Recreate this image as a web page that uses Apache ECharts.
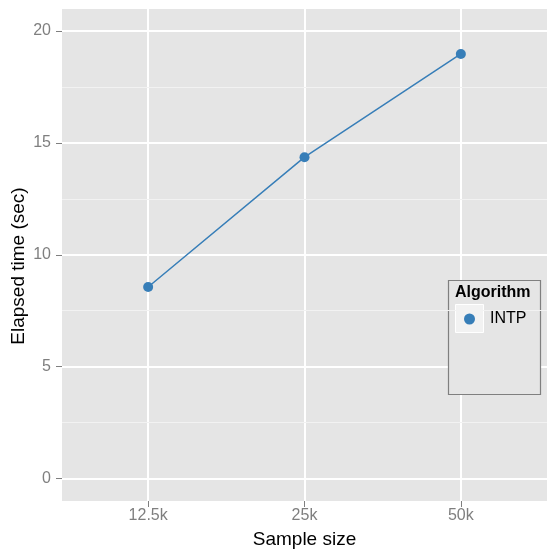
<!DOCTYPE html>
<html>
<head>
<meta charset="utf-8">
<script src="https://cdn.jsdelivr.net/npm/echarts@6/dist/echarts.min.js"></script>
<style>html,body{margin:0;padding:0;background:#fff}#c{width:548px;height:549px}</style>
</head>
<body>
<div id="c"></div>
<script>
var categories = ['12.5k', '25k', '50k'];
var elapsed = [8.56, 14.36, 18.97];
var yTicks = [0, 5, 10, 15, 20];
var yMinor = [2.5, 7.5, 12.5, 17.5];
var seriesName = 'INTP';
var legendTitle = 'Algorithm';

var FONT = '"Liberation Sans", Arial, sans-serif';
var BLUE = '#377EB8';
var xPos = categories.map(function (c, i) { return i + 1; });
var points = elapsed.map(function (v, i) { return [xPos[i], v]; });

var chart = echarts.init(document.getElementById('c'), null, { renderer: 'canvas' });
chart.setOption({
  animation: false,
  backgroundColor: '#fff',
  title: {
    text: legendTitle, left: 455, top: 285, z: 10,
    padding: 0,
    textStyle: { fontFamily: FONT, fontSize: 16, fontWeight: 'bold', color: '#000' }
  },
  grid: { left: 62, right: 1, top: 9, bottom: 48, show: true, backgroundColor: '#E5E5E5', borderWidth: 0,
    containLabel: false, outerBoundsMode: 'none' },
  xAxis: {
    type: 'value', min: 0.449, max: 3.551,
    name: 'Sample size', nameLocation: 'middle', nameGap: 29, nameMoveOverlap: false,
    nameTextStyle: { fontFamily: FONT, fontSize: 19, color: '#000' },
    axisLine: { show: true, onZero: false, lineStyle: { color: 'rgba(0,0,0,0)', width: 0 } },
    axisTick: { show: true, customValues: xPos, length: 6, lineStyle: { color: '#7F7F7F', width: 1 } },
    axisLabel: { customValues: xPos, margin: 7, fontFamily: FONT, fontSize: 16, color: '#7F7F7F',
      formatter: function (v) { return categories[Math.round(v) - 1]; } },
    splitLine: { show: true, lineStyle: { color: '#fff', width: 2 } }
  },
  yAxis: {
    type: 'value', min: -1.0, max: 20.98,
    name: 'Elapsed time (sec)', nameLocation: 'middle', nameGap: 34, nameMoveOverlap: false,
    nameTextStyle: { fontFamily: FONT, fontSize: 19, color: '#000', padding: [0, 22, 0, 0] },
    axisLine: { show: true, onZero: false, lineStyle: { color: 'rgba(0,0,0,0)', width: 0 } },
    axisTick: { show: true, customValues: yTicks, length: 6, lineStyle: { color: '#7F7F7F', width: 1 } },
    axisLabel: { customValues: yTicks, margin: 11, fontFamily: FONT, fontSize: 16, color: '#7F7F7F' },
    splitLine: { show: true, lineStyle: { color: '#fff', width: 2 } }
  },
  legend: {
    left: 464, top: 311, padding: 0, z: 10,
    itemWidth: 11, itemHeight: 11, itemGap: 5,
    icon: 'circle',
    data: [seriesName],
    textStyle: { fontFamily: FONT, fontSize: 16, color: '#000', padding: [0, 0, 0, 10] }
  },
  graphic: [
    { type: 'rect', z: 3, shape: { x: 448.5, y: 280.5, width: 92, height: 114 },
      style: { fill: '#E5E5E5', stroke: '#7F7F7F', lineWidth: 1.2 } },
    { type: 'rect', z: 4, shape: { x: 455.5, y: 304.5, width: 28, height: 28 },
      style: { fill: '#F2F2F2', stroke: '#fff', lineWidth: 1 } }
  ],
  series: [
    {
      type: 'line', name: '_minor', silent: true, data: [], symbol: 'none',
      markLine: { silent: true, symbol: 'none', label: { show: false },
        lineStyle: { color: '#F2F2F2', width: 1, type: 'solid' },
        data: yMinor.map(function (v) { return { yAxis: v }; }) },
      z: 1
    },
    {
      type: 'line', name: seriesName, data: points,
      symbol: 'circle', symbolSize: 10,
      itemStyle: { color: BLUE },
      lineStyle: { color: BLUE, width: 1.5 },
      z: 5
    }
  ]
});
</script>
</body>
</html>
